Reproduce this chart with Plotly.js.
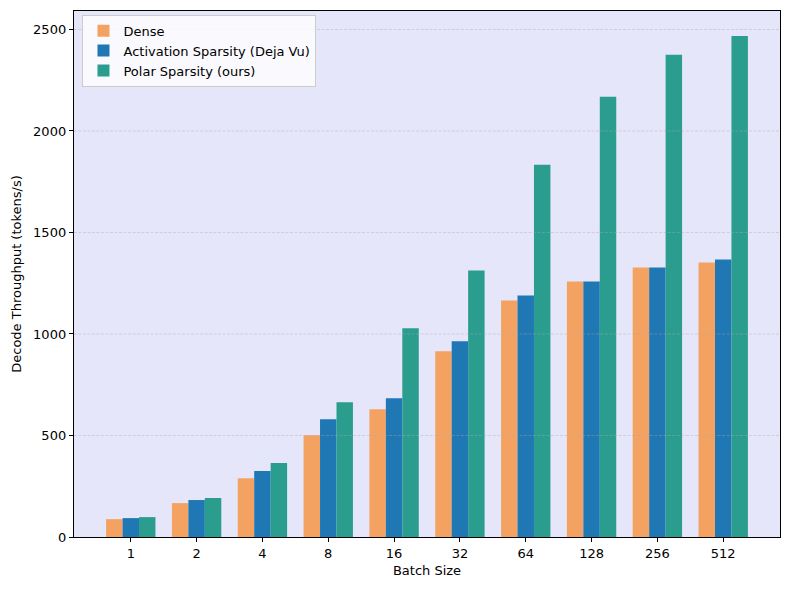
<!DOCTYPE html>
<html>
<head>
<meta charset="utf-8">
<script src="https://cdn.plot.ly/plotly-3.0.1.min.js"></script>
<style>body{margin:0;padding:0;background:#fff;} #chart{width:790px;height:590px;}</style>
</head>
<body>
<div id="chart"></div>
<script>
const batchSizes = ["1","2","4","8","16","32","64","128","256","512"];
const dense = [88, 167, 290, 501, 629, 915, 1165, 1259, 1327, 1352];
const dejaVu = [93, 182, 325, 580, 683, 964, 1190, 1259, 1327, 1367];
const polar = [98, 192, 364, 664, 1028, 1313, 1834, 2168, 2375, 2468];
const yTicks = [0, 500, 1000, 1500, 2000, 2500];
const seriesNames = ["Dense", "Activation Sparsity (Deja Vu)", "Polar Sparsity (ours)"];
const colors = ["#f4a261", "#1f77b4", "#2a9d8f"];

const font = {family: "DejaVu Sans, sans-serif", size: 13, color: "#000"};
const traces = [dense, dejaVu, polar].map((vals, i) => ({
  type: "bar", x: batchSizes, y: vals, name: seriesNames[i],
  marker: {color: colors[i], line: {width: 0}}
}));

const gridShapes = yTicks.filter(v => v > 0).map(v => ({
  type: "line", xref: "paper", yref: "y", x0: 0, x1: 1, y0: v, y1: v,
  line: {color: "rgba(170,170,170,0.5)", width: 0.8, dash: "3px,1.5px"}, layer: "above"
}));

const layout = {
  width: 790, height: 590,
  margin: {l: 74, r: 10, t: 11, b: 53},
  paper_bgcolor: "#ffffff",
  plot_bgcolor: "#e6e6fa",
  font: font,
  barmode: "group", bargap: 0.25, bargroupgap: 0,
  showlegend: true,
  legend: {x: 0.012, y: 0.993, xanchor: "left", yanchor: "top",
    bgcolor: "rgba(255,255,255,0.8)", bordercolor: "#cccccc", borderwidth: 1,
    font: {family: "DejaVu Sans, sans-serif", size: 13}, tracegroupgap: 0},
  xaxis: {type: "category", range: [-0.8625, 9.8625], showgrid: false,
    showline: true, mirror: true, linecolor: "#000", linewidth: 1.2,
    ticks: "outside", ticklen: 4, tickwidth: 1, tickcolor: "#000",
    title: {text: "Batch Size", font: font, standoff: 6}, zeroline: false},
  yaxis: {range: [0, 2591], tickvals: yTicks, showgrid: false,
    showline: true, mirror: true, linecolor: "#000", linewidth: 1.2,
    ticks: "outside", ticklen: 4, tickwidth: 1, tickcolor: "#000",
    title: {text: "Decode Throughput (tokens/s)", font: font, standoff: 8}, zeroline: false},
  shapes: gridShapes
};
Plotly.newPlot("chart", traces, layout, {displayModeBar: false, staticPlot: true});
</script>
</body>
</html>
